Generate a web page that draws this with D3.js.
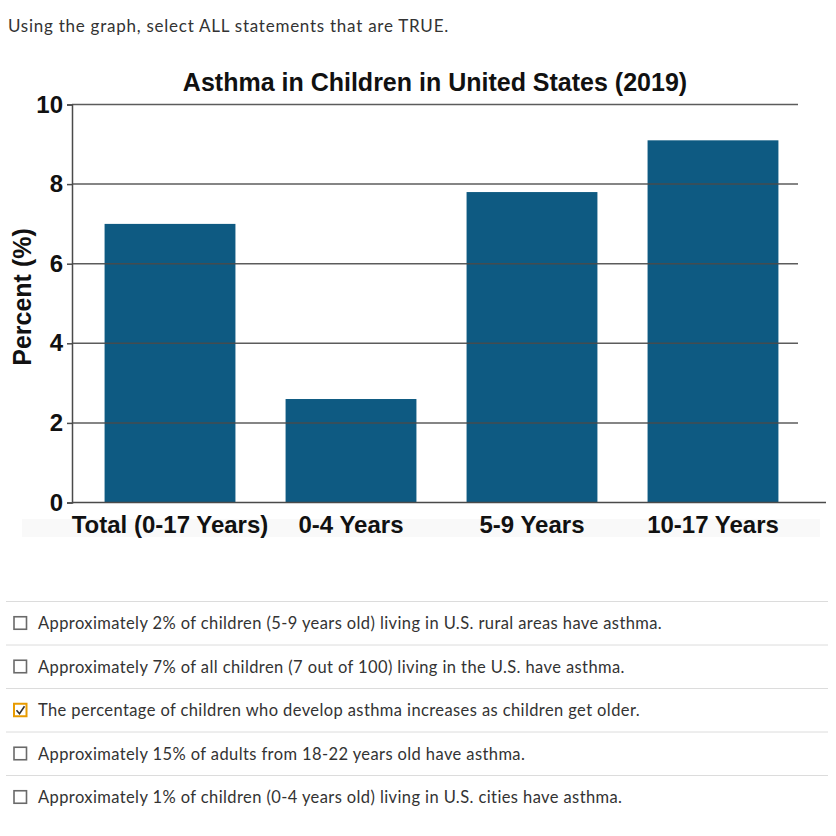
<!DOCTYPE html>
<html>
<head>
<meta charset="utf-8">
<script src="https://cdn.jsdelivr.net/npm/d3@7"></script>
<style>
  html, body { margin: 0; padding: 0; background: #fff; }
  svg { display: block; }
</style>
</head>
<body>
<svg id="chart" width="836" height="836"></svg>
<script>
// ---- data ----
const questionText = "Using the graph, select ALL statements that are TRUE.";
const chartTitle = "Asthma in Children in United States (2019)";
const yAxisTitle = "Percent (%)";
const categories = ["Total (0-17 Years)", "0-4 Years", "5-9 Years", "10-17 Years"];
const percents = [7.0, 2.6, 7.8, 9.1];
const yTicks = [0, 2, 4, 6, 8, 10];
const statements = [
  "Approximately 2% of children (5-9 years old) living in U.S. rural areas have asthma.",
  "Approximately 7% of all children (7 out of 100) living in the U.S. have asthma.",
  "The percentage of children who develop asthma increases as children get older.",
  "Approximately 15% of adults from 18-22 years old have asthma.",
  "Approximately 1% of children (0-4 years old) living in U.S. cities have asthma."
];
const checked = [false, false, true, false, false];

// ---- layout ----
const svg = d3.select("#chart");
const barColor = "#0e5a82";
const lineColor = "#4a4a4a";
const chartFont = "'Liberation Sans', Arial, Helvetica, sans-serif";
const textFont = "Lato, 'Open Sans', sans-serif";

svg.append("rect").attr("width", 836).attr("height", 836).attr("fill", "#fff");

svg.append("text")
  .attr("x", 8).attr("y", 32)
  .attr("font-family", textFont).attr("font-size", 17)
  .attr("letter-spacing", 0.75)
  .attr("fill", "#333")
  .text(questionText);

const x = d3.scaleBand()
  .domain(categories)
  .range([72, 811])
  .paddingInner(0.277)
  .paddingOuter(0.18);

const y = d3.scaleLinear().domain([0, 10]).range([502.5, 104.5]);

// faint band behind category labels
svg.append("rect")
  .attr("x", 22).attr("y", 519).attr("width", 798).attr("height", 18)
  .attr("fill", "#f9f9f9");

// bars
svg.append("g").selectAll("rect")
  .data(categories)
  .join("rect")
  .attr("x", d => x(d))
  .attr("width", x.bandwidth())
  .attr("y", (d, i) => y(percents[i]))
  .attr("height", (d, i) => y(0) - y(percents[i]))
  .attr("fill", barColor);

// gridlines over bars
svg.append("g").selectAll("line")
  .data(yTicks.filter(t => t > 0))
  .join("line")
  .attr("x1", 72).attr("x2", 798)
  .attr("y1", d => y(d)).attr("y2", d => y(d))
  .attr("stroke", lineColor).attr("stroke-width", 1.5)
  .attr("stroke-opacity", 0.9);

// y axis
const yAxis = svg.append("g")
  .attr("transform", "translate(72,0)")
  .call(d3.axisLeft(y).tickValues(yTicks).tickSize(5).tickPadding(4).tickFormat(d3.format("d")));
yAxis.select(".domain").attr("stroke", lineColor).attr("stroke-width", 1.5);
yAxis.selectAll(".tick line").attr("stroke", lineColor).attr("stroke-width", 1.5);
yAxis.selectAll(".tick text")
  .attr("font-family", chartFont).attr("font-weight", "bold")
  .attr("font-size", 24).attr("fill", "#111");

// x axis line
svg.append("line")
  .attr("x1", 72).attr("x2", 826)
  .attr("y1", y(0)).attr("y2", y(0))
  .attr("stroke", lineColor).attr("stroke-width", 1.5);

// category labels
svg.append("g").selectAll("text")
  .data(categories)
  .join("text")
  .attr("x", d => x(d) + x.bandwidth() / 2)
  .attr("y", 533)
  .attr("text-anchor", "middle")
  .attr("font-family", chartFont).attr("font-weight", "bold")
  .attr("font-size", 24).attr("fill", "#111")
  .text(d => d);

// title
svg.append("text")
  .attr("x", 435).attr("y", 91)
  .attr("text-anchor", "middle")
  .attr("font-family", chartFont).attr("font-weight", "bold")
  .attr("font-size", 25).attr("fill", "#111")
  .text(chartTitle);

// y axis title
svg.append("text")
  .attr("transform", "translate(31,297) rotate(-90)")
  .attr("text-anchor", "middle")
  .attr("font-family", chartFont).attr("font-weight", "bold")
  .attr("font-size", 25).attr("fill", "#111")
  .text(yAxisTitle);

// statements list
const rowY = d3.scaleLinear().domain([0, 1]).range([601.5, 645]);
const list = svg.append("g");
list.selectAll("line.sep")
  .data(statements)
  .join("line")
  .attr("class", "sep")
  .attr("x1", 6).attr("x2", 828)
  .attr("y1", (d, i) => rowY(i)).attr("y2", (d, i) => rowY(i))
  .attr("stroke", "#dcdcdc").attr("stroke-width", 1);

const rows = list.selectAll("g.row")
  .data(statements)
  .join("g")
  .attr("class", "row")
  .attr("transform", (d, i) => `translate(0,${rowY(i) + 21.75})`);

rows.append("rect")
  .attr("x", 14).attr("y", -6.5).attr("width", 12.5).attr("height", 12.5)
  .attr("fill", "#fff")
  .attr("stroke", (d, i) => checked[i] ? "#e89b00" : "#6a6a6a")
  .attr("stroke-width", (d, i) => checked[i] ? 2 : 1.6);

rows.filter((d, i) => checked[i]).append("path")
  .attr("d", "M16.5,0 L19.5,3.5 L24.5,-4")
  .attr("fill", "none").attr("stroke", "#333").attr("stroke-width", 1.6);

rows.append("text")
  .attr("x", 38).attr("y", 6)
  .attr("font-family", textFont).attr("font-size", 16.5)
  .attr("letter-spacing", 0.4)
  .attr("fill", "#333")
  .text(d => d);
</script>
</body>
</html>
